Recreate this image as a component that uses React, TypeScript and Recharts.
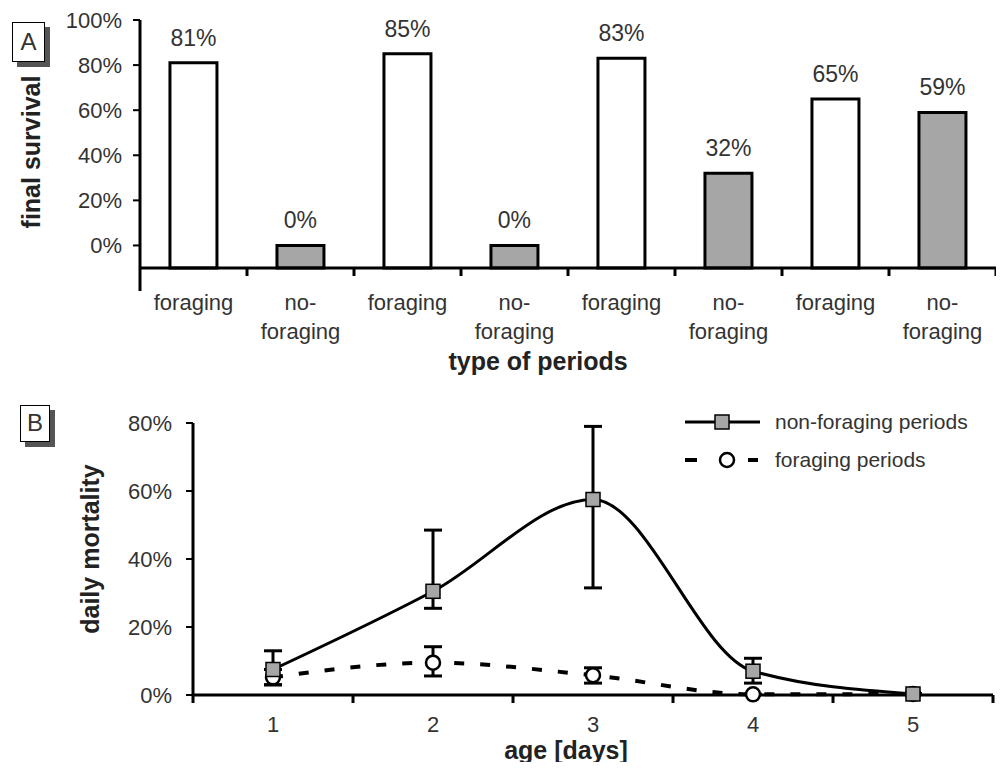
import React from 'react';
import { BarChart, Bar, Cell, XAxis, YAxis, LabelList, Label, LineChart, Line, ErrorBar, Legend } from 'recharts';

const periodTypes = ['foraging', 'no-foraging', 'foraging', 'no-foraging', 'foraging', 'no-foraging', 'foraging', 'no-foraging'];
const finalSurvival = [81, 0, 85, 0, 83, 32, 65, 59];
const survivalTicks = [0, 20, 40, 60, 80, 100];

const ageDays = [1, 2, 3, 4, 5];
const nonForagingMortality = [7.5, 30.5, 57.5, 7, 0.3];
const nonForagingLow = [3, 25.5, 31.5, 3.5, 0.3];
const nonForagingHigh = [13, 48.5, 79, 10.8, 0.3];
const foragingMortality = [5.2, 9.5, 5.8, 0.2, 0.3];
const foragingLow = [3, 5.6, 3.5, 0.2, 0.3];
const foragingHigh = [7.5, 14.2, 8, 0.2, 0.3];
const mortalityTicks = [0, 20, 40, 60, 80];
const ageTicks = [0.5, 1, 1.5, 2, 2.5, 3, 3.5, 4, 4.5, 5, 5.5];

const GRAY = '#a6a6a6';
const TEXT = '#333';
const FONT = '"Liberation Sans", Arial, sans-serif';

const barData = periodTypes.map((type, i) => ({ type, survival: finalSurvival[i] }));

const lineData = ageDays.map((age, i) => ({
  age,
  nonForaging: nonForagingMortality[i],
  nfErr: [nonForagingMortality[i] - nonForagingLow[i], nonForagingHigh[i] - nonForagingMortality[i]],
  foraging: foragingMortality[i],
  fErr: [foragingMortality[i] - foragingLow[i], foragingHigh[i] - foragingMortality[i]],
}));

function PeriodTick(props: any) {
  const { x, y, payload, index } = props;
  const half = payload.offset ?? 53.5;
  const lines = payload.value === 'no-foraging' ? ['no-', 'foraging'] : ['foraging'];
  return (
    <g>
      {index === 0 && <line x1={x - half} x2={x - half} y1={y} y2={y + 23} stroke="#000" strokeWidth={3} />}
      <line x1={x + half} x2={x + half} y1={y} y2={y + 8} stroke="#000" strokeWidth={3} />
      <text x={x} y={y + 42} textAnchor="middle" fill={TEXT} fontSize={22}>
        {lines.map((l, i) => (
          <tspan key={i} x={x} dy={i === 0 ? 0 : 29}>{l}</tspan>
        ))}
      </text>
    </g>
  );
}

function AgeTick(props: any) {
  const { x, y, payload } = props;
  if (Number.isInteger(payload.value)) {
    return <text x={x} y={y + 37} textAnchor="middle" fill={TEXT} fontSize={22}>{payload.value}</text>;
  }
  return <line x1={x} x2={x} y1={y} y2={y + 8} stroke="#000" strokeWidth={3} />;
}

// rotated y-axis title, centred on (cx, cy)
function AxisTitle(props: any) {
  const { cx, cy, value } = props;
  return (
    <text
      x={cx}
      y={cy}
      transform={`rotate(-90 ${cx} ${cy})`}
      textAnchor="middle"
      dominantBaseline="central"
      fontWeight="bold"
      fontSize={25}
      fill="#222"
    >
      {value}
    </text>
  );
}

function SquareDot(props: any) {
  const { cx, cy, index } = props;
  return <rect key={`sq-${index}`} x={cx - 7} y={cy - 7} width={14} height={14} fill={GRAY} stroke="#000" strokeWidth={1.5} />;
}

function CircleDot(props: any) {
  const { cx, cy, index } = props;
  return <circle key={`ci-${index}`} cx={cx} cy={cy} r={7} fill="#fff" stroke="#000" strokeWidth={2.5} />;
}

function MortalityLegend() {
  const row = { display: 'flex', alignItems: 'center', height: 38 } as const;
  return (
    <div style={{ fontSize: 21, color: TEXT, fontFamily: FONT }}>
      <div style={row}>
        <svg width={90} height={20}>
          <line x1={0} x2={75} y1={10} y2={10} stroke="#000" strokeWidth={3} />
          <rect x={30} y={3} width={14} height={14} fill={GRAY} stroke="#000" strokeWidth={1.5} />
        </svg>
        <span>non-foraging periods</span>
      </div>
      <div style={row}>
        <svg width={90} height={20}>
          <line x1={0} x2={12} y1={10} y2={10} stroke="#000" strokeWidth={4} />
          <line x1={63} x2={73} y1={10} y2={10} stroke="#000" strokeWidth={4} />
          <circle cx={42} cy={10} r={7} fill="#fff" stroke="#000" strokeWidth={2.5} />
        </svg>
        <span>foraging periods</span>
      </div>
    </div>
  );
}

function PanelTag({ text, left, top, w, h }: { text: string; left: number; top: number; w: number; h: number }) {
  return (
    <div
      style={{
        position: 'absolute', left, top, width: w, height: h, boxSizing: 'border-box',
        border: '1.5px solid #000', background: '#fff', boxShadow: '5px 5px 0 #555',
        fontSize: 24, lineHeight: `${h - 3}px`, textAlign: 'center', color: TEXT,
      }}
    >
      {text}
    </div>
  );
}

export default function App() {
  return (
    <div style={{ position: 'relative', width: 1004, height: 770, margin: -8, fontFamily: FONT, background: '#fff', overflow: 'hidden' }}>
      <div style={{ position: 'absolute', left: 0, top: 0 }}>
        <BarChart width={1004} height={375} data={barData} margin={{ top: 20, right: 8, left: 0, bottom: 0 }} barCategoryGap="28%">
          <XAxis
            dataKey="type"
            interval={0}
            tickLine={false}
            tickSize={0}
            tickMargin={0}
            height={107}
            axisLine={{ stroke: '#000', strokeWidth: 3 }}
            tick={<PeriodTick />}
          >
            <Label value="type of periods" position="insideBottom" offset={5} dx={-30} style={{ fontWeight: 'bold', fontSize: 25, fill: '#222' }} />
          </XAxis>
          <YAxis
            domain={[-10, 100]}
            ticks={survivalTicks}
            tickFormatter={(v) => `${v}%`}
            width={140}
            tickSize={7}
            tickMargin={11}
            axisLine={{ stroke: '#000', strokeWidth: 3 }}
            tickLine={{ stroke: '#000', strokeWidth: 2 }}
            tick={{ fill: TEXT, fontSize: 22 }}
          >
            <Label value="final survival" content={<AxisTitle cx={31} cy={152} value="final survival" />} />
          </YAxis>
          <Bar dataKey={(d: any) => [-10, d.survival]} stroke="#000" strokeWidth={3} isAnimationActive={false}>
            {barData.map((d, i) => (
              <Cell key={i} fill={d.type === 'foraging' ? '#fff' : GRAY} />
            ))}
            <LabelList dataKey="survival" position="top" offset={17} formatter={(v: any) => `${v}%`} fill={TEXT} fontSize={23} />
          </Bar>
        </BarChart>
      </div>

      <div style={{ position: 'absolute', left: 0, top: 400 }}>
        <LineChart width={1004} height={370} data={lineData} margin={{ top: 23, right: 11, left: 0, bottom: 0 }}>
          <XAxis
            dataKey="age"
            type="number"
            domain={[0.5, 5.5]}
            ticks={ageTicks}
            interval={0}
            tickLine={false}
            tickSize={0}
            tickMargin={0}
            height={75}
            axisLine={{ stroke: '#000', strokeWidth: 3 }}
            tick={<AgeTick />}
          >
            <Label value="age [days]" position="insideBottom" offset={11} dx={-27} style={{ fontWeight: 'bold', fontSize: 25, fill: '#222' }} />
          </XAxis>
          <YAxis
            domain={[0, 80]}
            ticks={mortalityTicks}
            tickFormatter={(v) => `${v}%`}
            width={193}
            tickSize={7}
            tickMargin={14}
            axisLine={{ stroke: '#000', strokeWidth: 3 }}
            tickLine={{ stroke: '#000', strokeWidth: 2 }}
            tick={{ fill: TEXT, fontSize: 22 }}
          >
            <Label value="daily mortality" content={<AxisTitle cx={90} cy={149} value="daily mortality" />} />
          </YAxis>
          <Legend
            layout="vertical"
            align="center"
            verticalAlign="middle"
            content={() => <MortalityLegend />}
            wrapperStyle={{ left: 685, top: 3, width: 320 }}
          />
          <Line
            dataKey="foraging"
            type="monotone"
            stroke="#000"
            strokeWidth={4}
            strokeDasharray="10 16"
            dot={CircleDot}
            isAnimationActive={false}
          >
            <ErrorBar dataKey="fErr" direction="y" width={9} stroke="#000" strokeWidth={3} />
          </Line>
          <Line
            dataKey="nonForaging"
            type="monotone"
            stroke="#000"
            strokeWidth={3}
            dot={SquareDot}
            isAnimationActive={false}
          >
            <ErrorBar dataKey="nfErr" direction="y" width={9} stroke="#000" strokeWidth={3} />
          </Line>
        </LineChart>
      </div>

      <PanelTag text="A" left={12} top={22} w={33} h={40} />
      <PanelTag text="B" left={20} top={405} w={30} h={37} />
    </div>
  );
}
